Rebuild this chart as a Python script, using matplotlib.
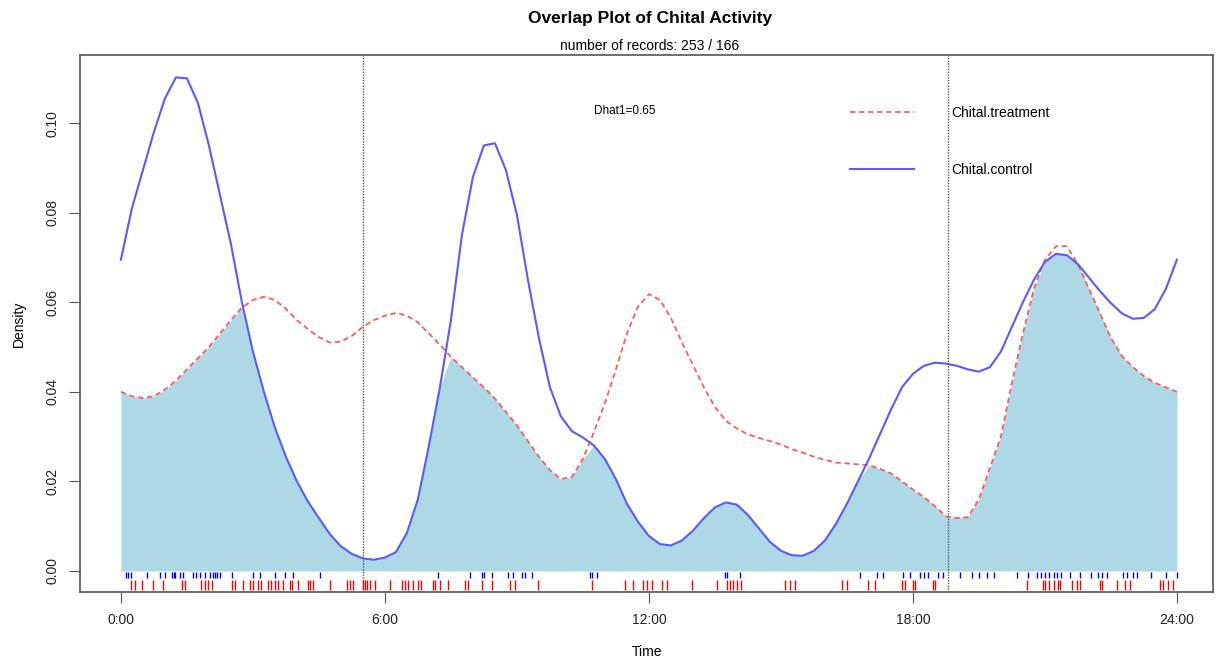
import numpy as np
import matplotlib.pyplot as plt

plt.rcParams['font.family'] = ['Liberation Sans', 'DejaVu Sans']

# density estimates, every quarter hour
hours = np.arange(0, 24.01, 0.25)
control = [0.0695, 0.0810, 0.0895, 0.0980, 0.1055, 0.1102, 0.1100, 0.1045,
           0.0950, 0.0840, 0.0730, 0.0600, 0.0490, 0.0400, 0.0320, 0.0255,
           0.0200, 0.0155, 0.0118, 0.0082, 0.0055, 0.0038, 0.0028, 0.0025,
           0.0030, 0.0042, 0.0085, 0.0160, 0.0280, 0.0410, 0.0560, 0.0750,
           0.0880, 0.0950, 0.0955, 0.0895, 0.0795, 0.0650, 0.0520, 0.0410,
           0.0345, 0.0312, 0.0298, 0.0280, 0.0250, 0.0205, 0.0150, 0.0110,
           0.0078, 0.0060, 0.0057, 0.0068, 0.0090, 0.0118, 0.0142, 0.0153,
           0.0148, 0.0125, 0.0095, 0.0065, 0.0045, 0.0035, 0.0034, 0.0045,
           0.0068, 0.0105, 0.0150, 0.0200, 0.0250, 0.0305, 0.0360, 0.0410,
           0.0440, 0.0458, 0.0465, 0.0463, 0.0458, 0.0450, 0.0445, 0.0455,
           0.0490, 0.0545, 0.0600, 0.0650, 0.0690, 0.0708, 0.0705, 0.0685,
           0.0655, 0.0625, 0.0598, 0.0575, 0.0563, 0.0565, 0.0585, 0.0630,
           0.0695]
treatment = [0.0400, 0.0390, 0.0386, 0.0390, 0.0405, 0.0425, 0.0450, 0.0475,
             0.0500, 0.0530, 0.0560, 0.0588, 0.0605, 0.0612, 0.0605, 0.0585,
             0.0560, 0.0540, 0.0522, 0.0510, 0.0512, 0.0525, 0.0545, 0.0560,
             0.0570, 0.0576, 0.0570, 0.0555, 0.0530, 0.0505, 0.0478, 0.0455,
             0.0432, 0.0410, 0.0385, 0.0355, 0.0325, 0.0290, 0.0255, 0.0225,
             0.0205, 0.0210, 0.0250, 0.0310, 0.0375, 0.0450, 0.0530, 0.0590,
             0.0618, 0.0605, 0.0565, 0.0510, 0.0460, 0.0410, 0.0366, 0.0335,
             0.0318, 0.0305, 0.0297, 0.0290, 0.0282, 0.0272, 0.0264, 0.0255,
             0.0248, 0.0242, 0.0240, 0.0238, 0.0236, 0.0228, 0.0218, 0.0200,
             0.0182, 0.0165, 0.0145, 0.0122, 0.0118, 0.0120, 0.0160, 0.0230,
             0.0300, 0.0420, 0.0530, 0.0630, 0.0695, 0.0725, 0.0725, 0.0685,
             0.0630, 0.0576, 0.0520, 0.0480, 0.0455, 0.0435, 0.0420, 0.0410,
             0.0400]

# observation times (rug)
control_times = [0.11, 0.16, 0.23, 0.59, 0.89, 1.0, 1.16, 1.2, 1.23, 1.34, 1.41,
                 1.64, 1.7, 1.8, 1.91, 2.02, 2.09, 2.14, 2.18, 2.25, 2.52, 3.0,
                 3.16, 3.5, 3.73, 3.91, 4.52, 7.2, 7.93, 8.2, 8.25, 8.43, 8.8,
                 8.91, 9.11, 9.18, 9.34, 10.66, 10.7, 10.82, 13.73, 13.77, 14.07,
                 16.8, 17.18, 17.32, 17.77, 17.93, 18.16, 18.25, 18.34, 18.57,
                 18.68, 19.07, 19.34, 19.5, 19.68, 19.84, 20.36, 20.61, 20.82,
                 20.9, 21.0, 21.1, 21.2, 21.27, 21.36, 21.57, 21.8, 22.05, 22.2,
                 22.3, 22.41, 22.77, 22.86, 23.0, 23.1, 23.41, 23.75, 24.0]
treatment_times = [0.24, 0.32, 0.47, 0.73, 0.95, 1.38, 1.45, 1.83, 1.9, 1.97,
                   2.06, 2.52, 2.6, 2.77, 2.93, 3.0, 3.11, 3.18, 3.35, 3.42, 3.5,
                   3.57, 3.68, 3.84, 3.89, 4.02, 4.25, 4.3, 4.36, 4.75, 5.13, 5.2,
                   5.27, 5.5, 5.55, 5.6, 5.66, 5.77, 6.11, 6.38, 6.45, 6.52, 6.64,
                   6.75, 6.83, 7.09, 7.14, 7.25, 7.43, 7.82, 7.89, 8.2, 8.43,
                   8.84, 8.95, 9.48, 10.7, 11.45, 11.64, 11.86, 11.95, 12.07,
                   12.3, 12.4, 12.98, 13.55, 13.77, 13.84, 13.9, 14.0, 14.1,
                   15.09, 15.2, 15.32, 16.39, 16.5, 16.98, 17.14, 17.75, 17.82,
                   18.0, 18.05, 18.45, 18.5, 20.59, 20.95, 21.0, 21.1, 21.2,
                   21.3, 21.34, 21.61, 21.73, 21.8, 22.25, 22.3, 22.64, 22.82,
                   22.93, 23.61, 23.68, 23.8, 23.91]

sun_times = [5.5, 18.8]
xticks = [0, 6, 12, 18, 24]
xlabels = ['0:00', '6:00', '12:00', '18:00', '24:00']
yticks = [0.00, 0.02, 0.04, 0.06, 0.08, 0.10]

fig = plt.figure(figsize=(12.16, 6.62), dpi=100)
ax = fig.add_axes([80/1216, 1 - 592/662, 1133/1216, 537/662])

c = np.array(control)
t = np.array(treatment)
ax.fill_between(hours, 0, np.minimum(c, t), color='#add8e6', lw=0)
ax.plot(hours, t, color='#ff5a5a', lw=1.3, ls=(0, (3, 2)), label='Chital.treatment')
ax.plot(hours, c, color='#5a5aff', lw=1.5, label='Chital.control')

for s in sun_times:
    ax.axvline(s, color='#555555', lw=1, ls=(0, (1, 1)))

ax.vlines(control_times, -0.0016, -0.0002, color='blue', lw=1)
ax.vlines(treatment_times, -0.0043, -0.0021, color='red', lw=1)

ax.set_xlim(-0.93, 24.82)
ax.set_ylim(-0.0047, 0.1152)
ax.set_xticks(xticks)
ax.set_xticklabels(xlabels)
ax.set_yticks(yticks)
ax.set_yticklabels(['%.2f' % v for v in yticks], rotation=90, va='center')
ax.tick_params(axis='both', direction='out', length=8, color='#555555',
               labelsize=10, pad=7, labelcolor='#222222')
for sp in ax.spines.values():
    sp.set_color('#555555')
    sp.set_linewidth(1.2)

ax.set_xlabel('Time', fontsize=10, labelpad=13)
ax.set_ylabel('Density', fontsize=10, labelpad=14)

fig.text(650/1216, 1 - 18/662, 'Overlap Plot of Chital Activity', ha='center',
         va='center', fontsize=12.5, fontweight='bold')
fig.text(650/1216, 1 - 46/662, 'number of records: 253 / 166', ha='center',
         va='center', fontsize=10)
ax.text(11.45, 0.1027, 'Dhat1=0.65', fontsize=8.5, ha='center', va='center')

ax.legend(loc='upper left', bbox_to_anchor=(0.675, 0.915), borderaxespad=0,
          frameon=False, handlelength=4.6, handletextpad=2.7, labelspacing=3.1,
          fontsize=10)

fig.savefig('out.png', dpi=100)
